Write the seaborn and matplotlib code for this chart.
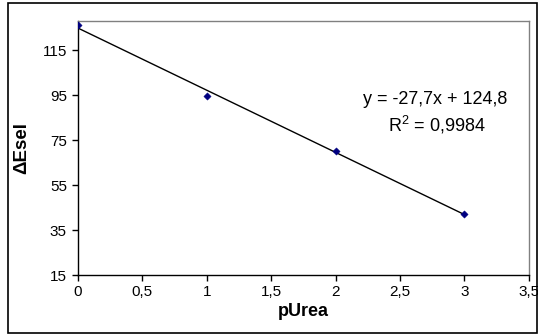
import matplotlib
matplotlib.use("Agg")
import matplotlib.pyplot as plt
from matplotlib.patches import Rectangle
import seaborn as sns
import pandas as pd

# values
p_urea = [0, 1, 2, 3]
delta_esel = [126.4, 94.7, 70.4, 42.4]
x_ticks = [0, 0.5, 1, 1.5, 2, 2.5, 3, 3.5]
x_tick_labels = ["0", "0,5", "1", "1,5", "2", "2,5", "3", "3,5"]
y_ticks = [15, 35, 55, 75, 95, 115]
eq_text = "y = -27,7x + 124,8"
r2_text = "R$^2$ = 0,9984"

df = pd.DataFrame({"pUrea": p_urea, "dEsel": delta_esel})

sns.set_style("white", {"text.color": "black", "axes.labelcolor": "black",
                        "xtick.color": "black", "ytick.color": "black"})
plt.rcParams["font.family"] = ["Liberation Sans", "DejaVu Sans"]
plt.rcParams["mathtext.fontset"] = "custom"
plt.rcParams["mathtext.rm"] = "Liberation Sans"

fig = plt.figure(figsize=(5.38, 3.34), dpi=100)
ax = fig.add_axes([0.145, 0.1757, 0.8377, 0.7623])

# trendline
sns.regplot(data=df, x="pUrea", y="dEsel", ax=ax, scatter=False, ci=None,
            line_kws={"color": "black", "lw": 1.0})
sns.scatterplot(data=df, x="pUrea", y="dEsel", ax=ax, marker="D", s=14,
                color="#000080", edgecolor="#000080", zorder=5)

ax.set_xlim(0, 3.5)
ax.set_ylim(15, 128.2)
ax.set_xticks(x_ticks)
ax.set_xticklabels(x_tick_labels)
ax.set_yticks(y_ticks)
ax.tick_params(axis="both", direction="out", length=4, width=1, color="black",
               labelcolor="black", labelsize=11, pad=4, bottom=True, left=True)
ax.tick_params(axis="x", pad=3)

for side in ["left", "bottom"]:
    ax.spines[side].set_color("black")
    ax.spines[side].set_linewidth(1.0)
for side in ["top", "right"]:
    ax.spines[side].set_color("#808080")
    ax.spines[side].set_linewidth(1.0)

ax.set_xlabel("pUrea", fontsize=13, fontweight="bold", labelpad=3, color="black")
ax.set_ylabel("ΔEsel", fontsize=13.5, fontweight="bold", labelpad=9, color="black")

ax.text(0.792, 0.692, eq_text, transform=ax.transAxes, fontsize=13,
        ha="center", va="center", color="black")
ax.text(0.796, 0.59, r2_text, transform=ax.transAxes, fontsize=13,
        ha="center", va="center", color="black")

# outer chart frame
fig.patches.append(Rectangle((7.5 / 538, 1 / 334), 529 / 538, 330 / 334,
                             transform=fig.transFigure, fill=False,
                             edgecolor="black", lw=1.2))

fig.savefig("out.png", dpi=100)
